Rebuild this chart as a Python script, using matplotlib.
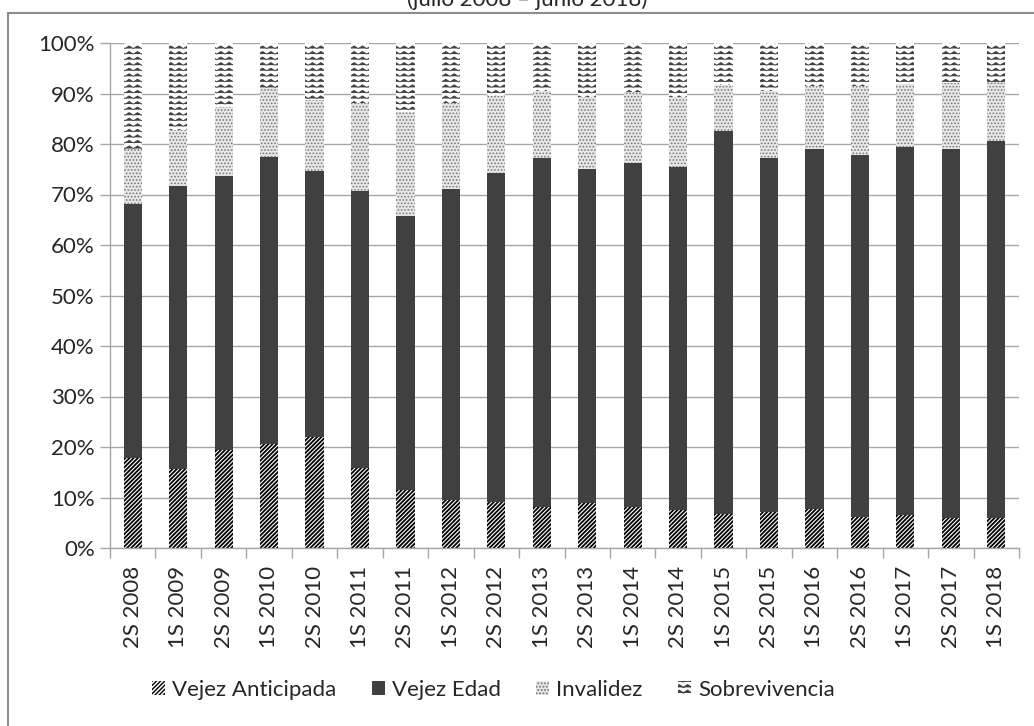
import warnings

import matplotlib
matplotlib.use("Agg")
import matplotlib.hatch as mhatch
import matplotlib.pyplot as plt
import numpy as np
from matplotlib.path import Path

warnings.filterwarnings("ignore")

# ── Datos (porcentaje de cada tipo de pensión por semestre) ───────────────────
SEMESTRES = ["2S 2008", "1S 2009", "2S 2009", "1S 2010", "2S 2010", "1S 2011",
             "2S 2011", "1S 2012", "2S 2012", "1S 2013", "2S 2013", "1S 2014",
             "2S 2014", "1S 2015", "2S 2015", "1S 2016", "2S 2016", "1S 2017",
             "2S 2017", "1S 2018"]
VEJEZ_ANTICIPADA = [17.8, 15.6, 19.4, 20.6, 22.0, 15.8, 11.5, 9.5, 9.2, 8.2,
                    9.0, 8.2, 7.5, 6.7, 7.2, 7.7, 6.2, 6.5, 5.9, 5.9]
VEJEZ_EDAD = [50.3, 56.1, 54.3, 56.9, 52.7, 54.8, 54.3, 61.6, 65.0, 69.1,
              66.0, 68.0, 68.0, 75.9, 70.0, 71.3, 71.6, 73.0, 73.2, 74.6]
INVALIDEZ = [11.0, 11.1, 13.7, 13.5, 14.0, 17.6, 20.6, 17.0, 15.3, 13.1,
             14.4, 14.0, 13.9, 9.1, 13.2, 12.5, 13.7, 12.4, 13.0, 11.8]
SOBREVIVENCIA = [20.9, 17.2, 12.6, 9.0, 11.3, 11.8, 13.6, 11.9, 10.5, 9.6,
                 10.6, 9.8, 10.6, 8.3, 9.6, 8.5, 8.5, 8.1, 7.9, 7.7]
SERIES = ["Vejez Anticipada", "Vejez Edad", "Invalidez", "Sobrevivencia"]


# ── Trama ondulada (no existe en matplotlib) ──────────────────────────────────
class OndaHatch(mhatch.HatchPatternBase):
    PERIODOS = 12

    def __init__(self, hatch, density):
        self.num_lines = int(hatch.count("w") * density)
        self.num_vertices = self.num_lines * (2 * self.PERIODOS + 1)

    def set_vertices_and_codes(self, vertices, codes):
        n = 2 * self.PERIODOS + 1
        xs = np.linspace(0.0, 1.0, n)
        amp = np.where(np.arange(n) % 2 == 0, -0.013, 0.013)
        steps, size = np.linspace(0.0, 1.0, self.num_lines, False, retstep=True)
        steps += size / 2.0
        for k, y in enumerate(steps):
            vertices[k * n:(k + 1) * n, 0] = xs
            vertices[k * n:(k + 1) * n, 1] = y + amp
            codes[k * n] = Path.MOVETO
            codes[k * n + 1:(k + 1) * n] = Path.LINETO


mhatch._hatch_types.append(OndaHatch)

plt.rcParams["font.family"] = ["Lato", "DejaVu Sans"]

TXT = "#262626"
GRIS = "#a6a6a6"
FS = 16

fig = plt.figure(figsize=(10.34, 7.26), dpi=100)
ax = fig.add_axes([110 / 1034, 1 - 548 / 726, 909 / 1034, 505 / 726])

x = np.arange(len(SEMESTRES))
ancho = 0.4
base = np.zeros(len(SEMESTRES))
estilos = [
    (1.3, dict(color="white", edgecolor="black", hatch="////////")),
    (1.0, dict(color="#404040", edgecolor="#404040")),
    (0.8, dict(color="#e8e8e8", edgecolor="#7a7a7a", hatch=".....")),
    (0.6, dict(color="white", edgecolor="#404040", hatch="www")),
]
for nombre, vals, (hlw, st) in zip(SERIES, [VEJEZ_ANTICIPADA, VEJEZ_EDAD, INVALIDEZ, SOBREVIVENCIA], estilos):
    vals = np.array(vals, dtype=float)
    with plt.rc_context({"hatch.linewidth": hlw}):
        ax.bar(x, vals, ancho, bottom=base, label=nombre, linewidth=0, **st)
    base += vals

ax.set_xlim(-0.5, len(SEMESTRES) - 0.5)
ax.set_ylim(0, 100)
ax.set_yticks(np.arange(0, 101, 10))
ax.set_yticklabels([f"{v}%" for v in range(0, 101, 10)])
ax.yaxis.grid(True, color=GRIS, linewidth=1.0)
ax.set_axisbelow(True)

ax.set_xticks(x)
ax.set_xticklabels(SEMESTRES, rotation=90)
ax.set_xticks(np.arange(-0.5, len(SEMESTRES)), minor=True)
ax.tick_params(axis="x", which="major", length=0, pad=13, labelsize=FS, labelcolor=TXT)
ax.tick_params(axis="x", which="minor", length=7, color=GRIS, width=1.0)
ax.tick_params(axis="y", length=7, color=GRIS, width=1.0, pad=4, labelsize=FS, labelcolor=TXT)

for s in ["top", "right"]:
    ax.spines[s].set_visible(False)
for s in ["left", "bottom"]:
    ax.spines[s].set_color(GRIS)
    ax.spines[s].set_linewidth(1.0)

fig.legend(loc="center", bbox_to_anchor=(0.477, 1 - 690 / 726), ncol=4,
           frameon=False, fontsize=FS, handlelength=0.6, handleheight=0.6,
           handletextpad=0.3, columnspacing=1.6, labelcolor=TXT)

# título recortado en la parte superior
fig.text(527 / 1034, 1 - 6 / 726, "(julio 2008 – junio 2018)", ha="center",
         va="baseline", fontsize=FS, color=TXT)

# borde del área del gráfico
fig.add_artist(plt.Line2D([8 / 1034, 8 / 1034], [0, 1 - 13 / 726],
                          transform=fig.transFigure, color="#8c8c8c", linewidth=1.5))
fig.add_artist(plt.Line2D([8 / 1034, 1], [1 - 13 / 726, 1 - 13 / 726],
                          transform=fig.transFigure, color="#8c8c8c", linewidth=1.5))

fig.savefig("out.png", dpi=100)
